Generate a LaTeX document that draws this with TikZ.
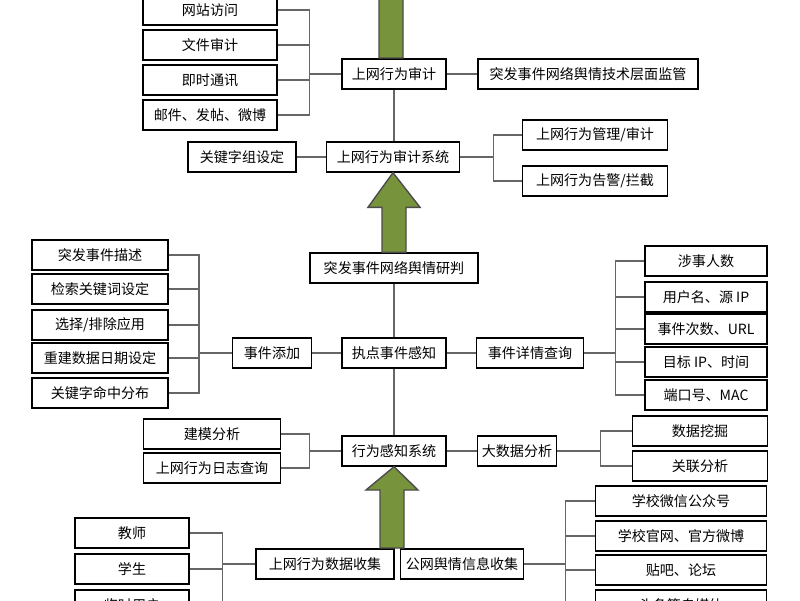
\documentclass[tikz,border=0pt]{standalone}
\usepackage{fontspec}
\setmainfont{Noto Sans CJK SC}
\usetikzlibrary{calc,positioning}
\colorlet{lineColor}{black!60}
\definecolor{arrowFill}{HTML}{77933C}
\tikzset{
  box/.style={draw, thick, minimum width=#1*0.02cm, minimum height=0.6cm, inner sep=1pt,
    font=\fontsize{8}{9}\selectfont, fill=white},
  link/.style={lineColor, thick},
  bigArrow/.style={fill=arrowFill, draw=black!70, thick},
}
\newcommand\upArrow[3]{% base, tip, head base y offset
  \draw[bigArrow] ($(#1)+(-12,0)$) -- ($(#1)+(-12,#3)$) -- ($(#1)+(-26,#3)$) -- (#2)
    -- ($(#1)+(26,#3)$) -- ($(#1)+(12,#3)$) -- ($(#1)+(12,0)$) -- cycle;
}
\begin{document}
\begin{tikzpicture}[x=0.02cm,y=-0.02cm]
\clip (0,0) rectangle (800,600);
\fill[white] (0,0) rectangle (800,600);
% upper part
\node[box=134] (web) at (210,10) {网站访问};
\node[box=134] (file) at (210,45) {文件审计};
\node[box=134] (chat) at (210,80) {即时通讯};
\node[box=134] (mail) at (210,115) {邮件、发帖、微博};
\node[box=104] (aud) at (394,74) {上网行为审计};
\node[box=220] (sup) at (588,74) {突发事件网络舆情技术层面监管};
\node[box=133] (sys) at (393,157) {上网行为审计系统};
\node[box=108] (kw) at (242,157) {关键字组设定};
\node[box=145] (mgr) at (595,135) {上网行为管理/审计};
\node[box=145] (warn) at (595,181) {上网行为告警/拦截};
\foreach \n in {web,file,chat,mail}
  \draw[link] (aud.west) -- ++(-32,0) |- (\n.east);
\draw[link] (aud.east) -- (sup.west);
\draw[link] (aud.south) -- (aud.south |- sys.north);
\draw[link] (kw.east) -- (sys.west);
\foreach \n in {mgr,warn}
  \draw[link] (sys.east) -- ++(33,0) |- (\n.west);
% middle part
\node[box=168] (judge) at (394,268) {突发事件网络舆情研判};
\node[box=104] (sense) at (394,353) {执点事件感知};
\node[box=79] (add) at (272,353) {事件添加};
\node[box=107] (query) at (530,353) {事件详情查询};
\node[box=136] (l1) at (100,255) {突发事件描述};
\node[box=136] (l2) at (100,289) {检索关键词设定};
\node[box=136] (l3) at (100,325) {选择/排除应用};
\node[box=136] (l4) at (100,358) {重建数据日期设定};
\node[box=136] (l5) at (100,393) {关键字命中分布};
\node[box=122] (r1) at (706,261) {涉事人数};
\node[box=122] (r2) at (706,297) {用户名、源 IP};
\node[box=122] (r3) at (706,329) {事件次数、URL};
\node[box=122] (r4) at (706,362) {目标 IP、时间};
\node[box=122] (r5) at (706,395) {端口号、MAC};
\foreach \n in {l1,l2,l3,l4,l5}
  \draw[link] (add.west) -- ++(-33,0) |- (\n.east);
\foreach \n in {r1,r2,r3,r4,r5}
  \draw[link] (query.east) -- ++(31,0) |- (\n.west);
\draw[link] (add.east) -- (sense.west);
\draw[link] (sense.east) -- (query.west);
\draw[link] (judge.south) -- (sense.north);
% lower part
\node[box=104] (act) at (394,451) {行为感知系统};
\node[box=137] (model) at (212,434) {建模分析};
\node[box=137] (log) at (212,468) {上网行为日志查询};
\node[box=79] (big) at (517,451) {大数据分析};
\node[box=135] (mine) at (700,431) {数据挖掘};
\node[box=135] (rel) at (700,466) {关联分析};
\draw[link] (sense.south) -- (act.north);
\foreach \n in {model,log}
  \draw[link] (act.west) -- ++(-32,0) |- (\n.east);
\draw[link] (act.east) -- (big.west);
\foreach \n in {mine,rel}
  \draw[link] (big.east) -- ++(43,0) |- (\n.west);
\node[box=138] (collect) at (325,564) {上网行为数据收集};
\node[box=123] (public) at (462,564) {公网舆情信息收集};
\node[box=114] (teach) at (132,533) {教师};
\node[box=114] (stud) at (132,569) {学生};
\node[box=114] (temp) at (132,605) {临时用户};
\node[box=171] (wx) at (681,501) {学校微信公众号};
\node[box=171] (site) at (681,536) {学校官网、官方微博};
\node[box=171] (bbs) at (681,570) {贴吧、论坛};
\node[box=171] (media) at (681,605) {头条等自媒体};
\foreach \n in {teach,stud,temp}
  \draw[link] (collect.west) -- ++(-33,0) |- (\n.east);
\foreach \n in {wx,site,bbs,media}
  \draw[link] (public.east) -- ++(41,0) |- (\n.west);
% green arrows
\coordinate (topTip) at (391,-40);
\upArrow{391,58}{topTip}{-70}
\upArrow{judge.north}{sys.south}{-45}
\coordinate (lowBase) at (392,548);
\upArrow{lowBase}{act.south}{-58}
\end{tikzpicture}
\end{document}
